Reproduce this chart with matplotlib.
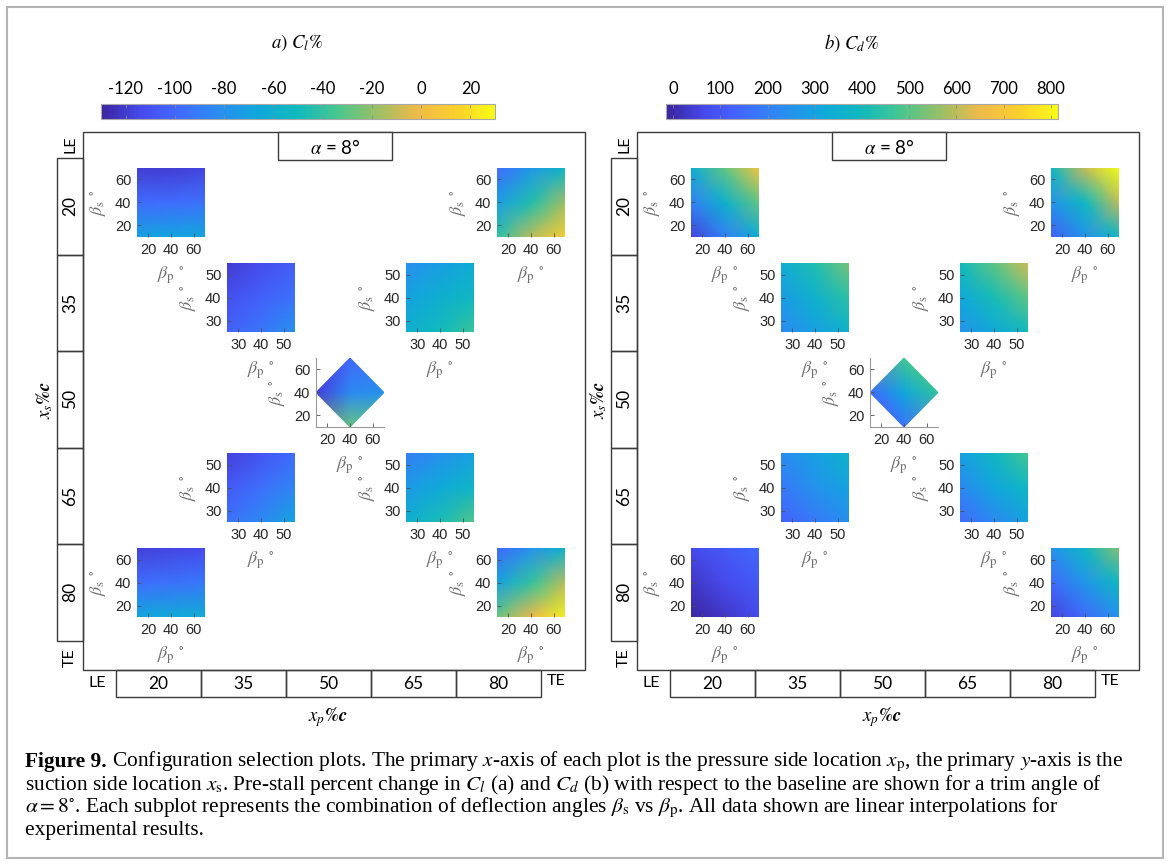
import numpy as np
import matplotlib
matplotlib.use("Agg")
import matplotlib.pyplot as plt
import matplotlib.tri as mtri
from matplotlib.colors import LinearSegmentedColormap, Normalize
from matplotlib.cm import ScalarMappable
from matplotlib.patches import Rectangle

W, H = 1171, 865

plt.rcParams['font.family'] = 'Liberation Sans'
plt.rcParams['mathtext.fontset'] = 'stix'
plt.rcParams['axes.unicode_minus'] = False

# flap locations, % chord (x_p along the bottom, x_s down the side)
locations = [20, 35, 50, 65, 80]

# deflection angle grids, degrees
beta_outer = [10, 40, 70]
beta_inner = [25, 40, 55]

# 50/50 case is a diamond: left, bottom, right, top, centre
diamond_bp = [10, 40, 70, 40, 40]
diamond_bs = [40, 10, 40, 70, 40]

# percent change in Cl; rows beta_s ascending, cols beta_p ascending
cl_20_20 = [[-70, -68, -67], [-98, -97, -95], [-120, -119, -116]]
cl_20_80 = [[-42, -12, 12], [-72, -45, -18], [-98, -76, -55]]
cl_35_35 = [[-102, -93, -80], [-111, -103, -95], [-120, -113, -105]]
cl_35_65 = [[-60, -50, -38], [-70, -60, -52], [-82, -72, -63]]
cl_65_35 = [[-95, -84, -68], [-106, -96, -86], [-118, -109, -98]]
cl_65_65 = [[-60, -47, -32], [-75, -64, -55], [-90, -81, -70]]
cl_80_20 = [[-66, -64, -62], [-97, -95, -92], [-118, -116, -114]]
cl_80_80 = [[-28, -3, 25], [-70, -40, -13], [-100, -80, -58]]
cl_50_50 = [-118, -28, -80, -100, -85]

# percent change in Cd, same layout
cd_20_20 = [[50, 200, 340], [200, 360, 510], [340, 510, 690]]
cd_20_80 = [[120, 250, 390], [250, 390, 600], [390, 610, 815]]
cd_35_35 = [[220, 290, 360], [280, 360, 445], [340, 425, 530]]
cd_35_65 = [[250, 320, 400], [320, 410, 505], [400, 505, 620]]
cd_65_35 = [[130, 185, 240], [180, 245, 300], [230, 290, 365]]
cd_65_65 = [[150, 220, 300], [220, 310, 385], [290, 385, 480]]
cd_80_20 = [[-10, 30, 70], [30, 70, 105], [70, 105, 145]]
cd_80_80 = [[55, 150, 250], [150, 260, 385], [250, 385, 540]]
cd_50_50 = [150, 170, 455, 475, 310]

cl_ticks = [-120, -100, -80, -60, -40, -20, 0, 20]
cd_ticks = [0, 100, 200, 300, 400, 500, 600, 700, 800]

cl_data = {(20, 20): cl_20_20, (20, 80): cl_20_80, (35, 35): cl_35_35,
           (35, 65): cl_35_65, (65, 35): cl_65_35, (65, 65): cl_65_65,
           (80, 20): cl_80_20, (80, 80): cl_80_80}
cd_data = {(20, 20): cd_20_20, (20, 80): cd_20_80, (35, 35): cd_35_35,
           (35, 65): cd_35_65, (65, 35): cd_65_35, (65, 65): cd_65_65,
           (80, 20): cd_80_20, (80, 80): cd_80_80}

# parula-like colormap
parula = LinearSegmentedColormap.from_list("parula", [
    (0.00, (0.230, 0.140, 0.620)),
    (0.10, (0.278, 0.290, 0.930)),
    (0.20, (0.255, 0.420, 0.996)),
    (0.30, (0.160, 0.560, 0.940)),
    (0.40, (0.060, 0.660, 0.860)),
    (0.50, (0.060, 0.730, 0.740)),
    (0.60, (0.280, 0.780, 0.560)),
    (0.70, (0.600, 0.750, 0.400)),
    (0.80, (0.930, 0.730, 0.290)),
    (0.90, (0.985, 0.810, 0.180)),
    (1.00, (0.977, 0.984, 0.081)),
])

# pixel position (left, top) of each small plot in panel a
slots = {(20, 20): (137, 168), (35, 35): (227, 263), (35, 65): (406, 263),
         (50, 50): (316, 358), (65, 35): (227, 453), (65, 65): (406, 453),
         (80, 20): (137, 548), (80, 80): (497, 548), (20, 80): (497, 168)}

fig = plt.figure(figsize=(W / 100, H / 100), dpi=100)
bg = fig.add_axes([0, 0, 1, 1])
bg.set_xlim(0, W)
bg.set_ylim(H, 0)
bg.axis('off')

EDGE = '#3c3c3c'
LAB = '#6e6e6e'


def px_axes(x0, y0, w, h):
    return fig.add_axes([x0 / W, 1 - (y0 + h) / H, w / W, h / H])


def style_small(ax, ticks, diamond=False):
    ax.set_xticks(ticks)
    ax.set_yticks(ticks)
    ax.tick_params(direction='in', length=3, width=0.6, color='#505050',
                   labelsize=10.5, labelcolor='#262626', pad=4)
    for name, s in ax.spines.items():
        if diamond and name in ('left', 'bottom'):
            s.set_color('#9a9a9a')
            s.set_linewidth(0.8)
        else:
            s.set_visible(False)
    ax.text(-0.58, 0.5, r'$\beta_{\rm s}\ ^{\circ}$', transform=ax.transAxes,
            rotation=90, ha='center', va='center', fontsize=13, color=LAB)
    ax.text(0.5, -0.56, r'$\beta_{\rm p}\ ^{\circ}$', transform=ax.transAxes,
            ha='center', va='center', fontsize=13, color=LAB)


def draw_panel(dx, data, centre, norm, title, cbar_box, ticks):
    # frame, alpha box, location cells
    bg.add_patch(Rectangle((83 + dx, 132), 502, 538, fill=False, ec=EDGE, lw=1))
    bg.add_patch(Rectangle((278 + dx, 132), 114, 28, fc='white', ec=EDGE, lw=1))
    bg.text(335 + dx, 147, r'$\alpha$ = 8°', ha='center', va='center',
            fontsize=13.5, family='Lato')
    for i, loc in enumerate(locations):
        y0 = 158 + i * 96.5
        bg.add_patch(Rectangle((57 + dx, y0), 26, 96.5, fill=False, ec=EDGE, lw=1))
        bg.text(70 + dx, y0 + 48, str(loc), rotation=90, ha='center',
                va='center', fontsize=12.5, family='Lato')
        x0 = 116 + dx + i * 85
        bg.add_patch(Rectangle((x0, 670), 85, 27, fill=False, ec=EDGE, lw=1))
        bg.text(x0 + 42.5, 684, str(loc), ha='center', va='center',
                fontsize=12.5, family='Lato')
    bg.text(70 + dx, 144, 'LE', rotation=90, ha='center', va='center',
            fontsize=11.5, family='Lato')
    bg.text(70 + dx, 658, 'TE', rotation=90, ha='center', va='center',
            fontsize=11.5, family='Lato')
    bg.text(97 + dx, 683, 'LE', ha='center', va='center', fontsize=11.5, family='Lato')
    bg.text(556 + dx, 681, 'TE', ha='center', va='center', fontsize=11.5, family='Lato')
    bg.text(45 + dx, 400, r'$\boldsymbol{x_s\%c}$', rotation=90, ha='center',
            va='center', fontsize=13.5)
    bg.text(328 + dx, 717, r'$\boldsymbol{x_p\%c}$', ha='center', va='center',
            fontsize=13.5)
    bg.text(297 + dx, 43, title, ha='center', va='center', fontsize=13.5)

    for key, (x0, y0) in slots.items():
        ax = px_axes(x0 + dx, y0, 68, 69)
        if key == (50, 50):
            tri = mtri.Triangulation(diamond_bp, diamond_bs,
                                     triangles=[[0, 1, 4], [1, 2, 4], [2, 3, 4], [3, 0, 4]])
            ax.tripcolor(tri, centre, shading='gouraud', cmap=parula, norm=norm)
            ax.set_xlim(10, 70)
            ax.set_ylim(10, 70)
            style_small(ax, [20, 40, 60], diamond=True)
            continue
        b = beta_outer if key[0] in (20, 80) else beta_inner
        ax.pcolormesh(b, b, np.array(data[key]), shading='gouraud',
                      cmap=parula, norm=norm)
        ax.set_xlim(b[0], b[-1])
        ax.set_ylim(b[0], b[-1])
        style_small(ax, [20, 40, 60] if b is beta_outer else [30, 40, 50])

    cax = px_axes(*cbar_box)
    cb = fig.colorbar(ScalarMappable(norm=norm, cmap=parula), cax=cax,
                      orientation='horizontal', ticks=ticks)
    cb.outline.set_edgecolor('#a8a8a8')
    cb.outline.set_linewidth(0.8)
    cax.tick_params(which='both', direction='in', length=3, width=0.5,
                    color='#8a8a8a', top=True, bottom=True, labeltop=True,
                    labelbottom=False, labelsize=12, pad=5)
    cax.minorticks_off()
    for t in cax.get_xticklabels():
        t.set_family('Lato')


draw_panel(0, cl_data, cl_50_50, Normalize(-130, 30), r'$a)\ C_l\%$',
           (101, 104, 394, 15), cl_ticks)
draw_panel(554, cd_data, cd_50_50, Normalize(-15, 815), r'$b)\ C_d\%$',
           (666, 104, 392, 15), cd_ticks)

# outer frame of the figure
bg.add_patch(Rectangle((7, 7), 1156, 851, fill=False, ec='#b4b4b4', lw=1.5))

# caption
cap = dict(family='Liberation Serif', fontsize=15.4, va='center', ha='left')
fig.canvas.draw()
rend = fig.canvas.get_renderer()
head = bg.text(25, 762, 'Figure 9.', fontweight='bold', **cap)
hw = head.get_window_extent(rend).width
bg.text(25 + hw, 762, r' Configuration selection plots. The primary $x$-axis of each plot '
        r'is the pressure side location $x_{\rm p}$, the primary $y$-axis is the', **cap)
bg.text(25, 785, r'suction side location $x_{\rm s}$. Pre-stall percent change in $C_l$ (a) '
        r'and $C_d$ (b) with respect to the baseline are shown for a trim angle of', **cap)
bg.text(25, 808, r'$\alpha = 8^{\circ}$. Each subplot represents the combination of '
        r'deflection angles $\beta_{\rm s}$ vs $\beta_{\rm p}$. All data shown are linear '
        r'interpolations for', **cap)
bg.text(25, 831, 'experimental results.', **cap)

fig.savefig('out.png', dpi=100)
